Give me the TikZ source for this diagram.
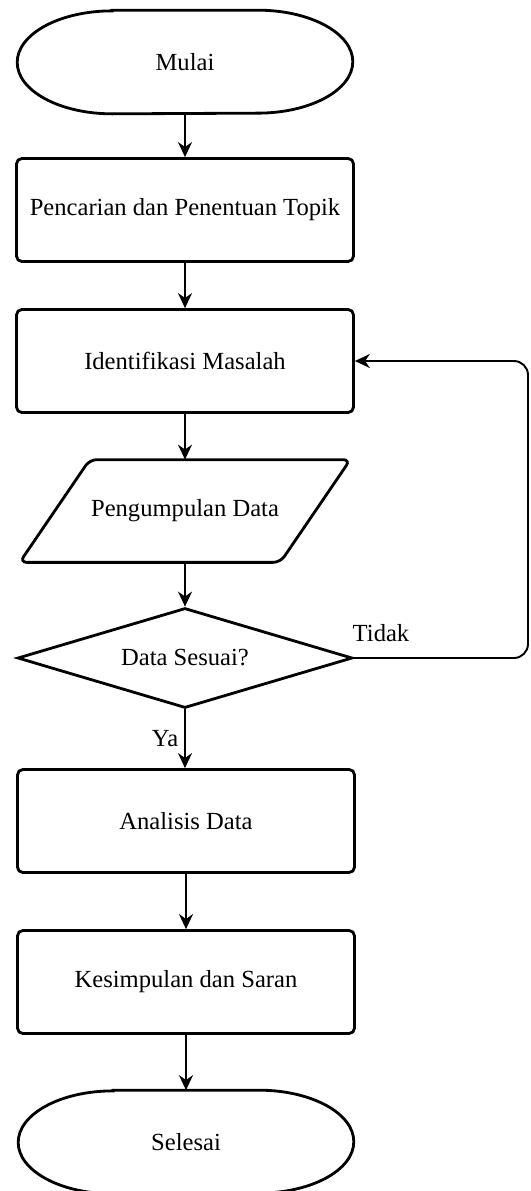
\documentclass[tikz,border=0pt]{standalone}
\usepackage{fontspec}
\setmainfont{Liberation Serif}
\usetikzlibrary{shapes.geometric, arrows.meta, calc}

\begin{document}
\begin{tikzpicture}[x=0.02cm, y=-0.02cm,
  every node/.style={font=\fontsize{14}{17}\selectfont},
  terminal/.style={minimum width=6.7cm, minimum height=2.06cm},
  outline/.style={line width=1.6pt},
  process/.style={draw, outline, rounded corners=3pt, minimum width=6.74cm, minimum height=2.06cm},
  inout/.style={minimum width=6.6cm, minimum height=2.04cm},
  decision/.style={draw, outline, diamond, aspect=3.4, inner sep=0pt, minimum width=6.7cm, minimum height=2cm},
  arrow/.style={-{Stealth[length=0.3cm, width=0.28cm]}, line width=1.1pt}]
\useasboundingbox (0,0) rectangle (531,1191);
% Mulai
\node[terminal] (mulai) at (185,62) {Mulai};
\draw[outline] ($(mulai.north west)+(95,0)$) -- ($(mulai.north east)+(-95,0)$)
  arc[start angle=90, end angle=-90, x radius=1.9cm, y radius=1.03cm]
  -- ($(mulai.south west)+(95,0)$)
  arc[start angle=270, end angle=90, x radius=1.9cm, y radius=1.03cm] -- cycle;
% Steps
\node[process] (topik) at (185,210) {Pencarian dan Penentuan Topik};
\node[process] (masalah) at (185,361) {Identifikasi Masalah};
\node[inout] (data) at (185,511) {Pengumpulan Data};
\draw[outline, rounded corners=4pt] (data.south west) -- ($(data.north west)+(70,0)$)
  -- (data.north east) -- ($(data.south east)+(-70,0)$) -- cycle;
\node[decision] (sesuai) at (185,658) {Data Sesuai?};
\node[process] (analisis) at (186,821) {Analisis Data};
\node[process] (simpulan) at (186,982) {Kesimpulan dan Saran};
% Selesai
\node[terminal] (selesai) at (186,1142) {Selesai};
\draw[outline] ($(selesai.north west)+(95,0)$) -- ($(selesai.north east)+(-95,0)$)
  arc[start angle=90, end angle=-90, x radius=1.9cm, y radius=1.03cm]
  -- ($(selesai.south west)+(95,0)$)
  arc[start angle=270, end angle=90, x radius=1.9cm, y radius=1.03cm] -- cycle;
% Arrows
\draw[arrow] (mulai.south) -- (topik.north);
\draw[arrow] (topik.south) -- (masalah.north);
\draw[arrow] (masalah.south) -- (data.north);
\draw[arrow] (data.south) -- (sesuai.north);
\draw[arrow] (sesuai.south) -- (sesuai.south |- analisis.north) node[midway, left] {Ya};
\draw[arrow] (analisis.south) -- (simpulan.north);
\draw[arrow] (simpulan.south) -- (selesai.north);
% Tidak
\draw[arrow, rounded corners=8pt] (sesuai.east) -- (528,658) |- (masalah.east);
\node (tidak) at (381,633) {Tidak};
\end{tikzpicture}
\end{document}
